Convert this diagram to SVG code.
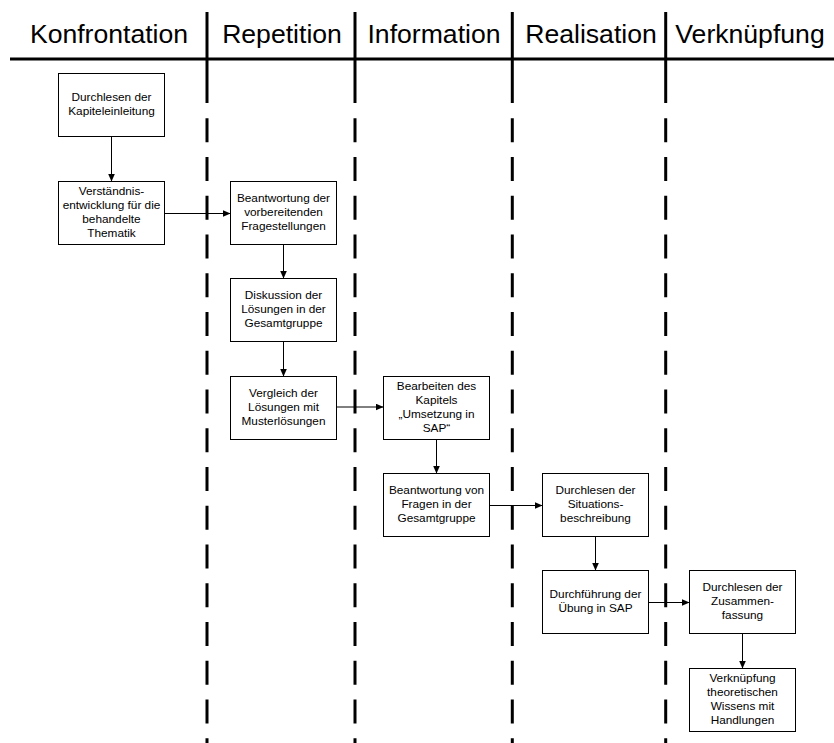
<svg xmlns="http://www.w3.org/2000/svg" width="834" height="743" viewBox="0 0 834 743">
  <style>
    .hdr { font-family: "Liberation Sans", Arial, sans-serif; font-size: 26.6px; fill: #000; text-anchor: middle; }
    .lbl { font-family: "Liberation Sans", Arial, sans-serif; font-size: 11.8px; fill: #000; text-anchor: middle; }
    .box { fill: #fff; stroke: #000; stroke-width: 1; }
    .lane { stroke: #000; stroke-width: 3; fill: none; }
    .lane-dash { stroke: #000; stroke-width: 3; fill: none; stroke-dasharray: 24 14.75; }
    .flow { stroke: #000; stroke-width: 1; fill: none; marker-end: url(#arrow); }
  </style>
  <defs>
    <marker id="arrow" markerUnits="userSpaceOnUse" markerWidth="9" markerHeight="8" refX="8" refY="3.5" orient="auto">
      <path d="M0,0 L8,3.5 L0,7 z" fill="#000"/>
    </marker>
  </defs>

  <rect width="834" height="743" fill="#fff"/>

  <!-- swimlane headers and separators -->
  <g id="lanes">
    <line class="lane" x1="10" y1="59" x2="834" y2="59"/>
    <line class="lane" x1="207" y1="12" x2="207" y2="103"/>
    <line class="lane" x1="355" y1="12" x2="355" y2="103"/>
    <line class="lane" x1="512.3" y1="12" x2="512.3" y2="103"/>
    <line class="lane" x1="665.7" y1="12" x2="665.7" y2="103"/>
    <line class="lane-dash" x1="207" y1="118.3" x2="207" y2="743"/>
    <line class="lane-dash" x1="355" y1="118.3" x2="355" y2="743"/>
    <line class="lane-dash" x1="512.3" y1="118.3" x2="512.3" y2="743"/>
    <line class="lane-dash" x1="665.7" y1="118.3" x2="665.7" y2="743"/>
    <text class="hdr" x="109" y="43">Konfrontation</text>
    <text class="hdr" x="282" y="43">Repetition</text>
    <text class="hdr" x="434" y="43">Information</text>
    <text class="hdr" x="591" y="43">Realisation</text>
    <text class="hdr" x="750" y="43">Verknüpfung</text>
  </g>

  <!-- connectors -->
  <g id="connectors">
    <line class="flow" x1="111.5" y1="136.5" x2="111.5" y2="181.5"/>
    <line class="flow" x1="164.5" y1="213.5" x2="230.5" y2="213.5"/>
    <line class="flow" x1="283.5" y1="244.5" x2="283.5" y2="278.5"/>
    <line class="flow" x1="283.5" y1="341.5" x2="283.5" y2="376.5"/>
    <line class="flow" x1="336.5" y1="407" x2="383.5" y2="407"/>
    <line class="flow" x1="436.5" y1="439.5" x2="436.5" y2="473.5"/>
    <line class="flow" x1="489.5" y1="505.5" x2="542.5" y2="505.5"/>
    <line class="flow" x1="595.5" y1="536.5" x2="595.5" y2="570.5"/>
    <line class="flow" x1="648.5" y1="602.5" x2="689.5" y2="602.5"/>
    <line class="flow" x1="742.5" y1="633.5" x2="742.5" y2="668.5"/>
  </g>

  <!-- process steps -->
  <g id="n1">
    <rect class="box" x="58.5" y="73.5" width="106" height="63"/>
    <text class="lbl" x="111.5"><tspan x="111.5" y="101">Durchlesen der</tspan><tspan x="111.5" y="115">Kapiteleinleitung</tspan></text>
  </g>
  <g id="n2">
    <rect class="box" x="58.5" y="181.5" width="106" height="63"/>
    <text class="lbl"><tspan x="111.5" y="195">Verständnis-</tspan><tspan x="111.5" y="209">entwicklung für die</tspan><tspan x="111.5" y="223">behandelte</tspan><tspan x="111.5" y="237">Thematik</tspan></text>
  </g>
  <g id="n3">
    <rect class="box" x="230.5" y="181.5" width="106" height="63"/>
    <text class="lbl"><tspan x="283.5" y="202">Beantwortung der</tspan><tspan x="283.5" y="216">vorbereitenden</tspan><tspan x="283.5" y="230">Fragestellungen</tspan></text>
  </g>
  <g id="n4">
    <rect class="box" x="230.5" y="278.5" width="106" height="63"/>
    <text class="lbl"><tspan x="283.5" y="299">Diskussion der</tspan><tspan x="283.5" y="313">Lösungen in der</tspan><tspan x="283.5" y="327">Gesamtgruppe</tspan></text>
  </g>
  <g id="n5">
    <rect class="box" x="230.5" y="376.5" width="106" height="63"/>
    <text class="lbl"><tspan x="283.5" y="397">Vergleich der</tspan><tspan x="283.5" y="411">Lösungen mit</tspan><tspan x="283.5" y="425">Musterlösungen</tspan></text>
  </g>
  <g id="n6">
    <rect class="box" x="383.5" y="376.5" width="106" height="63"/>
    <text class="lbl"><tspan x="436.5" y="390">Bearbeiten des</tspan><tspan x="436.5" y="404">Kapitels</tspan><tspan x="436.5" y="418">„Umsetzung in</tspan><tspan x="436.5" y="432">SAP“</tspan></text>
  </g>
  <g id="n7">
    <rect class="box" x="383.5" y="473.5" width="106" height="63"/>
    <text class="lbl"><tspan x="436.5" y="494">Beantwortung von</tspan><tspan x="436.5" y="508">Fragen in der</tspan><tspan x="436.5" y="522">Gesamtgruppe</tspan></text>
  </g>
  <g id="n8">
    <rect class="box" x="542.5" y="473.5" width="106" height="63"/>
    <text class="lbl"><tspan x="595.5" y="494">Durchlesen der</tspan><tspan x="595.5" y="508">Situations-</tspan><tspan x="595.5" y="522">beschreibung</tspan></text>
  </g>
  <g id="n9">
    <rect class="box" x="542.5" y="570.5" width="106" height="63"/>
    <text class="lbl"><tspan x="595.5" y="598">Durchführung der</tspan><tspan x="595.5" y="612">Übung in SAP</tspan></text>
  </g>
  <g id="n10">
    <rect class="box" x="689.5" y="570.5" width="106" height="63"/>
    <text class="lbl"><tspan x="742.5" y="591">Durchlesen der</tspan><tspan x="742.5" y="605">Zusammen-</tspan><tspan x="742.5" y="619">fassung</tspan></text>
  </g>
  <g id="n11">
    <rect class="box" x="689.5" y="668.5" width="106" height="63"/>
    <text class="lbl"><tspan x="742.5" y="682">Verknüpfung</tspan><tspan x="742.5" y="696">theoretischen</tspan><tspan x="742.5" y="710">Wissens mit</tspan><tspan x="742.5" y="724">Handlungen</tspan></text>
  </g>
</svg>
